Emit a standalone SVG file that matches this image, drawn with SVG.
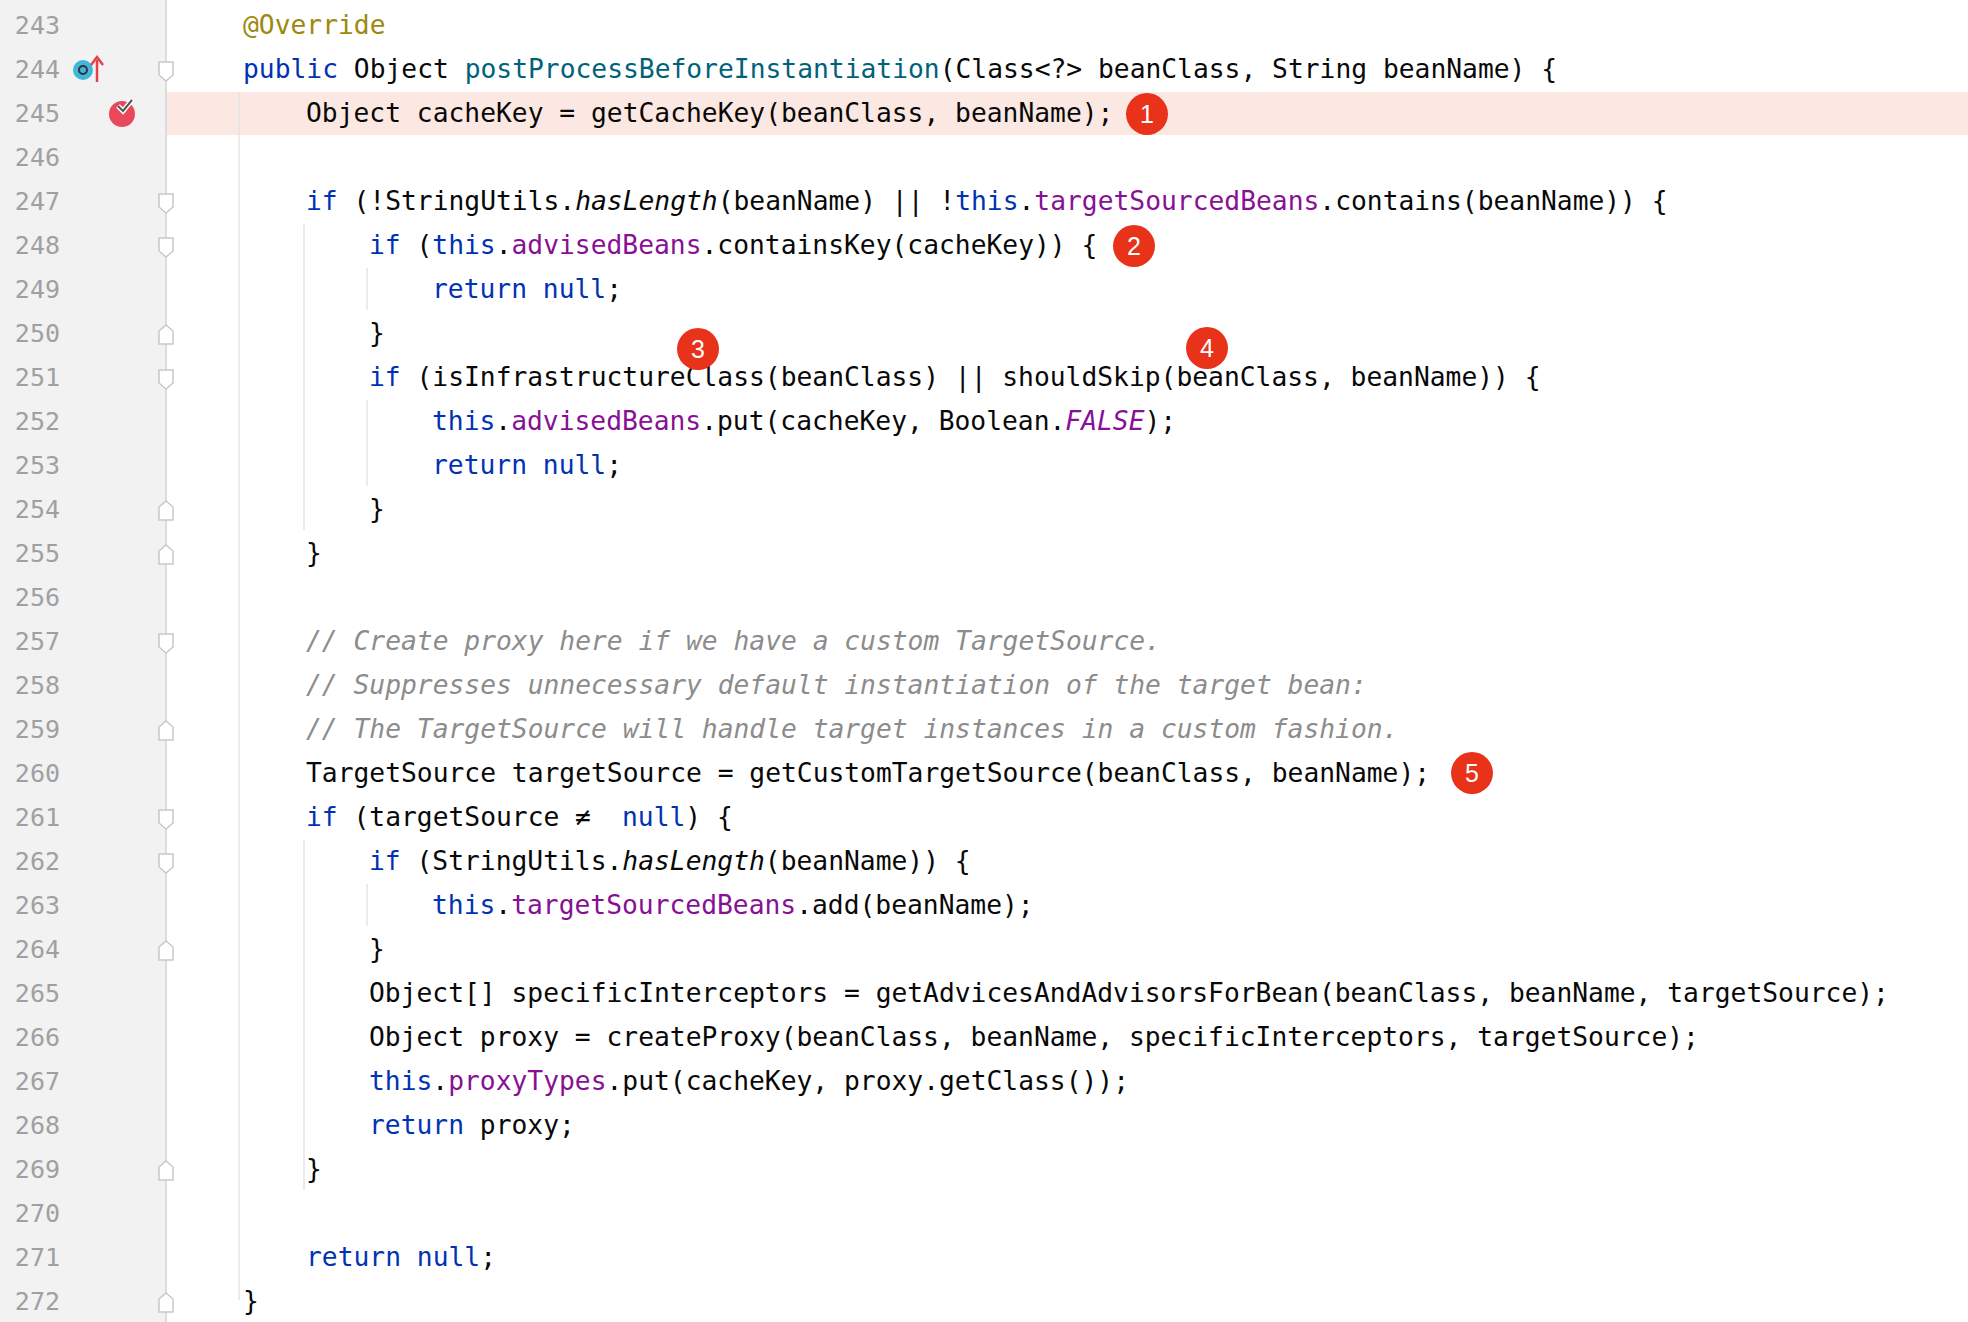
<svg xmlns="http://www.w3.org/2000/svg" width="1968" height="1322" viewBox="0 0 1968 1322">
<style>
.c{font-family:"DejaVu Sans Mono","Liberation Mono",monospace;font-size:26.3px;fill:#080808;white-space:pre}
.ln{font-family:"DejaVu Sans Mono","Liberation Mono",monospace;font-size:25px;fill:#a0a0a0;text-anchor:end}
.k{fill:#0033b3}.f{fill:#871094}.m{fill:#00627a}.a{fill:#9e880d}.i{font-style:italic}.cm{fill:#8c8c8c;font-style:italic}
.g{stroke:#e4e4e4;stroke-width:1.5}
.fold{fill:#fff;stroke:#c8c8c8;stroke-width:1.5}
.b circle{fill:#e8321a}.b text{font-family:"Liberation Sans",Arial,sans-serif;font-size:25px;fill:#fff;text-anchor:middle}
</style>
<defs><path id="fd" d="M-7,-9 H7 V4 L0,10 L-7,4 Z"/><path id="fu" d="M-7,9 H7 V-4 L0,-10 L-7,-4 Z"/></defs>
<rect width="1968" height="1322" fill="#fff"/>
<rect width="166" height="1322" fill="#f2f2f2"/>
<line x1="166" y1="0" x2="166" y2="1322" stroke="#dcdcdc" stroke-width="2"/>
<rect x="167" y="92" width="1801" height="43" fill="#fce8e2"/>
<g id="gutter">
<text class="ln" x="60" y="34">243</text><text class="ln" x="60" y="78">244</text><text class="ln" x="60" y="122">245</text><text class="ln" x="60" y="166">246</text><text class="ln" x="60" y="210">247</text><text class="ln" x="60" y="254">248</text><text class="ln" x="60" y="298">249</text><text class="ln" x="60" y="342">250</text><text class="ln" x="60" y="386">251</text><text class="ln" x="60" y="430">252</text><text class="ln" x="60" y="474">253</text><text class="ln" x="60" y="518">254</text><text class="ln" x="60" y="562">255</text><text class="ln" x="60" y="606">256</text><text class="ln" x="60" y="650">257</text><text class="ln" x="60" y="694">258</text><text class="ln" x="60" y="738">259</text><text class="ln" x="60" y="782">260</text><text class="ln" x="60" y="826">261</text><text class="ln" x="60" y="870">262</text><text class="ln" x="60" y="914">263</text><text class="ln" x="60" y="958">264</text><text class="ln" x="60" y="1002">265</text><text class="ln" x="60" y="1046">266</text><text class="ln" x="60" y="1090">267</text><text class="ln" x="60" y="1134">268</text><text class="ln" x="60" y="1178">269</text><text class="ln" x="60" y="1222">270</text><text class="ln" x="60" y="1266">271</text><text class="ln" x="60" y="1310">272</text>
<circle cx="83" cy="70" r="10" fill="#3fb6dc"/><circle cx="83" cy="70" r="4" fill="none" stroke="#333" stroke-width="2"/>
<line x1="97" y1="82" x2="97" y2="60" stroke="#e8404a" stroke-width="2.5"/><path d="M91,65 L97,57 L103,65" fill="none" stroke="#e8404a" stroke-width="2.5"/>
<circle cx="122" cy="114" r="13" fill="#e8495a"/><path d="M118,106 L123,111 L132,100" fill="none" stroke="#fff" stroke-width="5"/><path d="M118,106 L123,111 L132,100" fill="none" stroke="#555" stroke-width="2"/>
<use href="#fd" x="166" y="71" class="fold"/><use href="#fd" x="166" y="203" class="fold"/><use href="#fd" x="166" y="247" class="fold"/><use href="#fu" x="166" y="335" class="fold"/><use href="#fd" x="166" y="379" class="fold"/><use href="#fu" x="166" y="511" class="fold"/><use href="#fu" x="166" y="555" class="fold"/><use href="#fd" x="166" y="643" class="fold"/><use href="#fu" x="166" y="731" class="fold"/><use href="#fd" x="166" y="819" class="fold"/><use href="#fd" x="166" y="863" class="fold"/><use href="#fu" x="166" y="951" class="fold"/><use href="#fu" x="166" y="1171" class="fold"/><use href="#fu" x="166" y="1303" class="fold"/>
</g>
<g id="guides">
<line class="g" x1="239" y1="92" x2="239" y2="1300"/>
<line class="g" x1="304" y1="224" x2="304" y2="530"/>
<line class="g" x1="304" y1="840" x2="304" y2="1190"/>
<line class="g" x1="367" y1="268" x2="367" y2="310"/>
<line class="g" x1="367" y1="400" x2="367" y2="486"/>
<line class="g" x1="367" y1="884" x2="367" y2="926"/>
</g>
<g id="code">
<text class="c a" x="243" y="34">@Override</text>
<text class="c" x="243" y="78"><tspan class="k">public</tspan> Object <tspan class="m">postProcessBeforeInstantiation</tspan>(Class&lt;?&gt; beanClass, String beanName) {</text>
<text class="c" x="306" y="122">Object cacheKey = getCacheKey(beanClass, beanName);</text>
<text class="c" x="306" y="210"><tspan class="k">if</tspan> (!StringUtils.<tspan class="i">hasLength</tspan>(beanName) || !<tspan class="k">this</tspan>.<tspan class="f">targetSourcedBeans</tspan>.contains(beanName)) {</text>
<text class="c" x="369" y="254"><tspan class="k">if</tspan> (<tspan class="k">this</tspan>.<tspan class="f">advisedBeans</tspan>.containsKey(cacheKey)) {</text>
<text class="c" x="432" y="298"><tspan class="k">return null</tspan>;</text>
<text class="c" x="369" y="342">}</text>
<text class="c" x="369" y="386"><tspan class="k">if</tspan> (isInfrastructureClass(beanClass) || shouldSkip(beanClass, beanName)) {</text>
<text class="c" x="432" y="430"><tspan class="k">this</tspan>.<tspan class="f">advisedBeans</tspan>.put(cacheKey, Boolean.<tspan class="f i">FALSE</tspan>);</text>
<text class="c" x="432" y="474"><tspan class="k">return null</tspan>;</text>
<text class="c" x="369" y="518">}</text>
<text class="c" x="306" y="562">}</text>
<text class="c cm" x="306" y="650">// Create proxy here if we have a custom TargetSource.</text>
<text class="c cm" x="306" y="694">// Suppresses unnecessary default instantiation of the target bean:</text>
<text class="c cm" x="306" y="738">// The TargetSource will handle target instances in a custom fashion.</text>
<text class="c" x="306" y="782">TargetSource targetSource = getCustomTargetSource(beanClass, beanName);</text>
<text class="c" x="306" y="826"><tspan class="k">if</tspan> (targetSource <tspan x="575">≠</tspan><tspan x="622" class="k">null</tspan>) {</text>
<text class="c" x="369" y="870"><tspan class="k">if</tspan> (StringUtils.<tspan class="i">hasLength</tspan>(beanName)) {</text>
<text class="c" x="432" y="914"><tspan class="k">this</tspan>.<tspan class="f">targetSourcedBeans</tspan>.add(beanName);</text>
<text class="c" x="369" y="958">}</text>
<text class="c" x="369" y="1002">Object[] specificInterceptors = getAdvicesAndAdvisorsForBean(beanClass, beanName, targetSource);</text>
<text class="c" x="369" y="1046">Object proxy = createProxy(beanClass, beanName, specificInterceptors, targetSource);</text>
<text class="c" x="369" y="1090"><tspan class="k">this</tspan>.<tspan class="f">proxyTypes</tspan>.put(cacheKey, proxy.getClass());</text>
<text class="c" x="369" y="1134"><tspan class="k">return</tspan> proxy;</text>
<text class="c" x="306" y="1178">}</text>
<text class="c" x="306" y="1266"><tspan class="k">return null</tspan>;</text>
<text class="c" x="243" y="1310">}</text>
</g>
<g id="badge1" class="b"><circle cx="1147" cy="114" r="21"/><text x="1147" y="123">1</text></g>
<g id="badge2" class="b"><circle cx="1134" cy="246" r="21"/><text x="1134" y="255">2</text></g>
<g id="badge3" class="b"><circle cx="698" cy="349" r="21"/><text x="698" y="358">3</text></g>
<g id="badge4" class="b"><circle cx="1207" cy="348" r="21"/><text x="1207" y="357">4</text></g>
<g id="badge5" class="b"><circle cx="1472" cy="773" r="21"/><text x="1472" y="782">5</text></g>
</svg>
